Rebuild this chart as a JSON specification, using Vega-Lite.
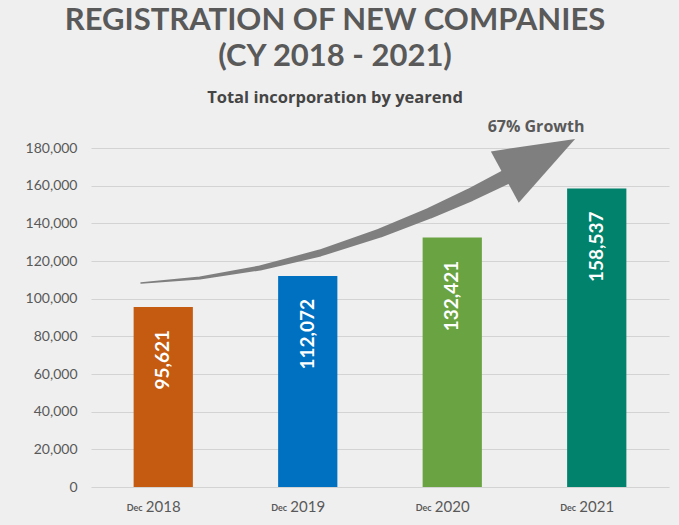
{
  "$schema": "https://vega.github.io/schema/vega-lite/v6.json",
  "width": 578,
  "height": 339,
  "autosize": {"type": "none"},
  "padding": {"left": 91, "top": 148, "right": 10, "bottom": 38},
  "background": "#efefef",
  "title": {
    "text": ["REGISTRATION OF NEW COMPANIES", "(CY 2018 - 2021)"],
    "subtitle": "Total incorporation by yearend",
    "anchor": "middle",
    "frame": "group",
    "dx": -45,
    "font": "Lato",
    "fontSize": 31,
    "fontWeight": "bold",
    "color": "#595959",
    "lineHeight": 36,
    "subtitleFont": "Open Sans",
    "subtitleFontSize": 16.5,
    "subtitleFontWeight": "bold",
    "subtitleColor": "#454545",
    "subtitlePadding": 17,
    "offset": 11
  },
  "config": {
    "view": {"stroke": null},
    "axisY": {
      "labelOverlap": false,
      "labelFont": "Lato",
      "labelFontSize": 14,
      "labelColor": "#595959",
      "labelPadding": 14,
      "tickSize": 0,
      "ticks": false,
      "domain": false,
      "grid": true,
      "gridColor": "#d3d3d3",
      "gridWidth": 1
    },
    "axisX": {
      "labelAngle": 0,
      "labelFont": "Lato",
      "labelFontSize": 15,
      "labelColor": "#595959",
      "labelBaseline": "alphabetic",
      "labelPadding": 24,
      "tickSize": 0,
      "ticks": false,
      "domain": false,
      "grid": false
    }
  },
  "datasets": {
    "bars": [
      {"year": "2018", "count": 95621},
      {"year": "2019", "count": 112072},
      {"year": "2020", "count": 132421},
      {"year": "2021", "count": 158537}
    ],
    "arrow": [
      {"ax": 0.346, "ay": 108300, "w": 1.5},
      {"ax": 0.754, "ay": 110980, "w": 3},
      {"ax": 1.170, "ay": 116290, "w": 5},
      {"ax": 1.585, "ay": 124250, "w": 7},
      {"ax": 2.000, "ay": 134870, "w": 9},
      {"ax": 2.346, "ay": 145490, "w": 11},
      {"ax": 2.623, "ay": 155050, "w": 13},
      {"ax": 2.886, "ay": 165140, "w": 15}
    ],
    "head": [
      {"ax": 3.107, "ay": 174700}
    ],
    "note": [
      {"ax": 3.080, "ay": 188500, "label": "67% Growth"}
    ]
  },
  "layer": [
    {
      "layer": [
        {
          "data": {"name": "bars"},
          "mark": {"type": "bar"},
          "encoding": {
            "x": {
              "field": "year",
              "type": "nominal",
              "scale": {"paddingInner": 0.59, "paddingOuter": 0.295},
              "axis": {"title": null}
            },
            "y": {
              "field": "count",
              "type": "quantitative",
              "scale": {"domain": [0, 180000], "nice": false},
              "axis": {"title": null, "values": [0, 20000, 40000, 60000, 80000, 100000, 120000, 140000, 160000, 180000], "format": ",.0f"}
            },
            "color": {
              "field": "year",
              "type": "nominal",
              "scale": {"domain": ["2018", "2019", "2020", "2021"], "range": ["#c55a11", "#0070c0", "#6aa341", "#00826c"]},
              "legend": null
            }
          }
        },
        {
          "data": {"name": "bars"},
          "mark": {"type": "text", "angle": 270, "align": "right", "baseline": "middle", "dx": -23, "font": "Lato", "fontSize": 19, "fontWeight": "bold", "color": "#ffffff"},
          "encoding": {
            "x": {"field": "year", "type": "nominal", "axis": {"title": null}},
            "y": {"field": "count", "type": "quantitative", "axis": {"title": null, "values": [0, 20000, 40000, 60000, 80000, 100000, 120000, 140000, 160000, 180000], "format": ",.0f"}},
            "text": {"field": "count", "type": "quantitative", "format": ","}
          }
        },
        {
          "data": {"name": "bars"},
          "mark": {"type": "text", "text": "Dec", "align": "center", "baseline": "alphabetic", "dx": -28.5, "dy": 24, "font": "Lato", "fontSize": 9, "fontWeight": "bold", "color": "#595959"},
          "encoding": {
            "x": {"field": "year", "type": "nominal", "axis": {"title": null}},
            "y": {"datum": 0, "type": "quantitative", "axis": {"title": null, "values": [0, 20000, 40000, 60000, 80000, 100000, 120000, 140000, 160000, 180000], "format": ",.0f"}}
          }
        }
      ]
    },
    {
      "layer": [
        {
          "data": {"name": "arrow"},
          "mark": {"type": "trail", "color": "#7f7f7f"},
          "encoding": {
            "x": {"field": "ax", "type": "quantitative", "scale": {"domain": [0, 4], "nice": false, "zero": false}, "axis": null},
            "y": {"field": "ay", "type": "quantitative", "axis": {"title": null, "values": [0, 20000, 40000, 60000, 80000, 100000, 120000, 140000, 160000, 180000], "format": ",.0f"}},
            "size": {"field": "w", "type": "quantitative", "scale": null, "legend": null},
            "order": {"field": "ax"}
          }
        },
        {
          "data": {"name": "head"},
          "mark": {"type": "point", "shape": "M0,-1L0.73,1L-0.73,1Z", "filled": true, "size": 6400, "angle": 61.5, "color": "#7f7f7f", "opacity": 1},
          "encoding": {
            "x": {"field": "ax", "type": "quantitative", "axis": null},
            "y": {"field": "ay", "type": "quantitative", "axis": {"title": null, "values": [0, 20000, 40000, 60000, 80000, 100000, 120000, 140000, 160000, 180000], "format": ",.0f"}}
          }
        },
        {
          "data": {"name": "note"},
          "mark": {"type": "text", "align": "center", "baseline": "alphabetic", "font": "Open Sans", "fontSize": 16, "fontWeight": "bold", "color": "#595959", "clip": false},
          "encoding": {
            "x": {"field": "ax", "type": "quantitative", "axis": null},
            "y": {"field": "ay", "type": "quantitative", "axis": {"title": null, "values": [0, 20000, 40000, 60000, 80000, 100000, 120000, 140000, 160000, 180000], "format": ",.0f"}},
            "text": {"field": "label"}
          }
        }
      ]
    }
  ],
  "resolve": {"scale": {"x": "independent"}}
}
